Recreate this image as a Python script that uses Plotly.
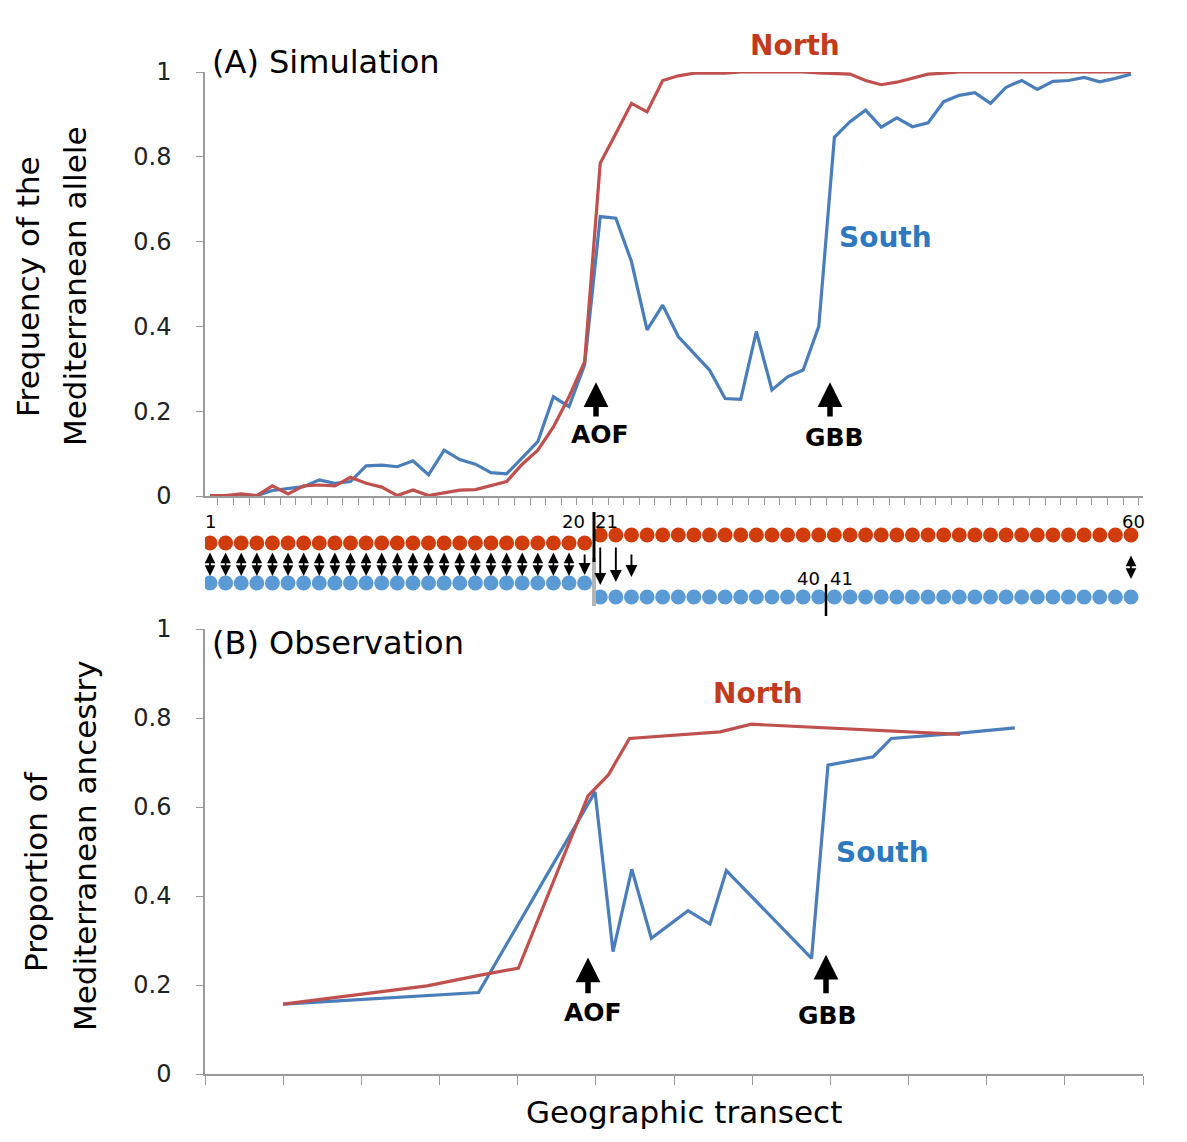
import plotly.graph_objects as go

# ---------------- data ----------------
demes = list(range(1, 61))
sim_north = [0.001, 0.001, 0.005, 0.001, 0.024, 0.005, 0.024, 0.026, 0.024, 0.044,
             0.030, 0.021, 0.001, 0.014, 0.001, 0.008, 0.014, 0.015, 0.024, 0.034,
             0.075, 0.108, 0.163, 0.234, 0.317, 0.785, 0.855, 0.926, 0.906, 0.980,
             0.991, 0.997, 0.997, 0.997, 1.000, 1.000, 1.000, 1.000, 1.000, 0.998,
             0.997, 0.995, 0.980, 0.970, 0.976, 0.985, 0.995, 0.997, 1.000, 1.000,
             1.000, 1.000, 1.000, 1.000, 1.000, 1.000, 1.000, 1.000, 1.000, 1.000]
sim_south = [0.000, 0.000, 0.003, 0.001, 0.013, 0.017, 0.022, 0.038, 0.030, 0.034,
             0.071, 0.073, 0.069, 0.083, 0.050, 0.108, 0.086, 0.075, 0.055, 0.052,
             0.090, 0.128, 0.234, 0.211, 0.309, 0.659, 0.655, 0.553, 0.392, 0.450,
             0.376, 0.337, 0.297, 0.230, 0.228, 0.388, 0.250, 0.281, 0.297, 0.400,
             0.846, 0.883, 0.910, 0.870, 0.892, 0.871, 0.880, 0.930, 0.945, 0.951,
             0.926, 0.964, 0.980, 0.959, 0.978, 0.980, 0.987, 0.977, 0.985, 0.995]

obs_north_x = [1.00, 2.84, 3.49, 4.01, 4.90, 5.16, 5.43, 6.59, 6.99, 9.66]
obs_north = [0.157, 0.198, 0.221, 0.238, 0.625, 0.672, 0.754, 0.769, 0.786, 0.763]
obs_south_x = [1.00, 3.50, 4.99, 5.22, 5.46, 5.71, 6.18, 6.46, 6.67, 7.76, 7.97,
               8.55, 8.78, 9.66, 10.36]
obs_south = [0.157, 0.183, 0.634, 0.275, 0.460, 0.305, 0.367, 0.337, 0.457, 0.260,
             0.694, 0.713, 0.754, 0.766, 0.778]

y_ticks = [0, 0.2, 0.4, 0.6, 0.8, 1]
y_tick_text = ["0", "0.2", "0.4", "0.6", "0.8", "1"]
split = 25          # demes 1..25 = left block, 26..60 = right block
bidir_left = demes[:split - 1]          # double arrows
down_right = [26, 27, 28]               # one-way arrows
deme_labels = ["1", "20", "21", "60", "40", "41"]

# ---------------- style / layout constants ----------------
W, H = 1187, 1142
OFF = 8   # page body margin
FONT = "DejaVu Sans"
RED_LINE = "#C0504D"
BLUE_LINE = "#4A7EBB"
RED_TXT = "#C23B1E"
BLUE_TXT = "#2E78C0"
RED_DOT = "#D03C0C"
BLUE_DOT = "#5B9BD5"
AX = "#9A9A9A"
X0, X1 = 205, 1143
XR = [0.68, 60.77]


def px(p):
    return (p - OFF) / W


def py(p):
    return 1 - (p - OFF) / H


def xv(p):  # pixel -> top x value
    return XR[0] + (p - X0) / (X1 - X0) * (XR[1] - XR[0])


def xb(p):  # pixel -> bottom x value
    return (p - X0) / (X1 - X0) * 12


fig = go.Figure()
fig.add_trace(go.Scatter(x=demes, y=sim_south, mode="lines", xaxis="x", yaxis="y",
                         line=dict(color=BLUE_LINE, width=3.2), showlegend=False))
fig.add_trace(go.Scatter(x=demes, y=sim_north, mode="lines", xaxis="x", yaxis="y",
                         line=dict(color=RED_LINE, width=3.2), showlegend=False))
fig.add_trace(go.Scatter(x=obs_south_x, y=obs_south, mode="lines", xaxis="x2", yaxis="y2",
                         line=dict(color=BLUE_LINE, width=3.2), showlegend=False))
fig.add_trace(go.Scatter(x=obs_north_x, y=obs_north, mode="lines", xaxis="x2", yaxis="y2",
                         line=dict(color=RED_LINE, width=3.2), showlegend=False))

# schematic dots (y3 in reference pixel units)
ROW = dict(red_l=543, red_r=535, blue_l=583, blue_r=597)
left = demes[:split]
right = demes[split:]
for xs, yy, col in [(left, ROW["red_l"], RED_DOT), (right, ROW["red_r"], RED_DOT),
                    (left, ROW["blue_l"], BLUE_DOT), (right, ROW["blue_r"], BLUE_DOT)]:
    fig.add_trace(go.Scatter(x=xs, y=[yy] * len(xs), mode="markers", xaxis="x3", yaxis="y3",
                             marker=dict(color=col, size=15, line=dict(width=0)),
                             showlegend=False, hoverinfo="skip"))

ann = []
shapes = []

# arrows in schematic
for d in bidir_left:
    ann.append(dict(x=d, y=576, ax=d, ay=551, xref="x3", yref="y3", axref="x3", ayref="y3",
                    text="", showarrow=True, arrowhead=2, arrowside="end+start",
                    arrowwidth=1.7, arrowsize=1.25, arrowcolor="black"))
ann.append(dict(x=demes[-1], y=579, ax=demes[-1], ay=554, xref="x3", yref="y3", axref="x3",
                ayref="y3", text="", showarrow=True, arrowhead=2, arrowside="end+start",
                arrowwidth=1.7, arrowsize=1.25, arrowcolor="black"))
for d, y0, y1 in [(split, 553, 575), (down_right[0], 546, 585), (down_right[1], 546, 582),
                  (down_right[2], 553, 577)]:
    ann.append(dict(x=d, y=y1, ax=d, ay=y0, xref="x3", yref="y3", axref="x3", ayref="y3",
                    text="", showarrow=True, arrowhead=2, arrowwidth=1.9, arrowsize=1.25,
                    arrowcolor="black"))

# separators in schematic
shapes.append(dict(type="line", xref="x3", yref="y3", x0=xv(594), x1=xv(594), y0=558, y1=606,
                   line=dict(color="#B5B5B5", width=4)))
shapes.append(dict(type="line", xref="x3", yref="y3", x0=xv(594), x1=xv(594), y0=512, y1=562,
                   line=dict(color="black", width=3)))
shapes.append(dict(type="line", xref="x3", yref="y3", x0=xv(826), x1=xv(826), y0=584, y1=616,
                   line=dict(color="black", width=2.5)))

# deme labels
for t, xp, ypix in zip(deme_labels, [210, 573, 606, 1133, 808, 841], [521, 521, 521, 521, 578, 578]):
    ann.append(dict(x=xv(xp), y=ypix, xref="x3", yref="y3", text=t, showarrow=False,
                    font=dict(family=FONT, size=18, color="black")))

# big arrows and labels
def big_arrow(xref, yref, x, y0, y1):
    ann.append(dict(x=x, y=y1, ax=x, ay=y0, xref=xref, yref=yref, axref=xref, ayref=yref,
                    text="", showarrow=True, arrowhead=2, arrowwidth=5.5, arrowsize=0.9,
                    arrowcolor="black"))

big_arrow("x", "y", xv(596), 0.184, 0.268)
big_arrow("x", "y", xv(830), 0.184, 0.268)
big_arrow("x2", "y2", xb(588), 0.178, 0.262)
big_arrow("x2", "y2", xb(826), 0.178, 0.268)

def label(text, xp, yp, color, size, bold=True, anchor="center"):
    ann.append(dict(x=px(xp), y=py(yp), xref="paper", yref="paper",
                    text=("<b>%s</b>" % text) if bold else text, showarrow=False,
                    xanchor=anchor, yanchor="middle",
                    font=dict(family=FONT, size=size, color=color)))

label("AOF", 600, 434, "black", 25)
label("GBB", 834, 437, "black", 25)
label("AOF", 593, 1012, "black", 25)
label("GBB", 827, 1015, "black", 25)
label("North", 795, 45, RED_TXT, 28)
label("South", 885, 238, BLUE_TXT, 28)
label("North", 758, 693, RED_TXT, 28)
label("South", 882, 852, BLUE_TXT, 28)
label("(A) Simulation", 210, 62, "black", 32, bold=False, anchor="left")
label("(B) Observation", 210, 643, "black", 32, bold=False, anchor="left")
label("Geographic transect", 684, 1112, "black", 31, bold=False)

def vlabel(text, xp, yp):
    ann.append(dict(x=px(xp), y=py(yp), xref="paper", yref="paper", text=text,
                    showarrow=False, textangle=-90, xanchor="center", yanchor="middle",
                    font=dict(family=FONT, size=31, color="black")))

vlabel("Frequency of the", 28, 287)
vlabel("Mediterranean allele", 75, 287)
vlabel("Proportion of", 36, 872)
vlabel("Mediterranean ancestry", 85, 845)

yax = dict(range=[0, 1], tickvals=y_ticks, ticktext=y_tick_text, showline=True,
           linecolor=AX, linewidth=1.5, ticks="outside", ticklen=7, tickcolor=AX,
           ticklabelstandoff=20,
           showgrid=False, zeroline=False, tickfont=dict(family=FONT, size=24, color="#222"),
           fixedrange=True, automargin=False)

fig.update_layout(
    width=W, height=H, margin=dict(l=0, r=0, t=0, b=0, pad=0, autoexpand=False),
    paper_bgcolor="white", plot_bgcolor="white",
    xaxis=dict(domain=[px(X0), px(X1)], range=XR, anchor="y", automargin=False,
               tickvals=[d + 0.5 for d in demes], showticklabels=False,
               ticks="outside", ticklen=7, tickcolor=AX, showline=True, linecolor=AX,
               linewidth=1.5, showgrid=False, zeroline=False),
    yaxis=dict(yax, domain=[py(496), py(72)], anchor="x"),
    xaxis2=dict(domain=[px(X0), px(X1)], range=[0, 12], anchor="y2", dtick=1, automargin=False,
                showticklabels=False, ticks="outside", ticklen=9, tickcolor=AX,
                showline=True, linecolor=AX, linewidth=1.5, showgrid=False, zeroline=False),
    yaxis2=dict(yax, domain=[py(1074), py(629)], anchor="x2"),
    xaxis3=dict(domain=[px(X0), px(X1)], range=XR, anchor="y3", visible=False, automargin=False),
    yaxis3=dict(domain=[py(625), py(505)], range=[625, 505], anchor="x3", visible=False,
                automargin=False),
    annotations=ann, shapes=shapes,
)

fig.write_html("out.html")
